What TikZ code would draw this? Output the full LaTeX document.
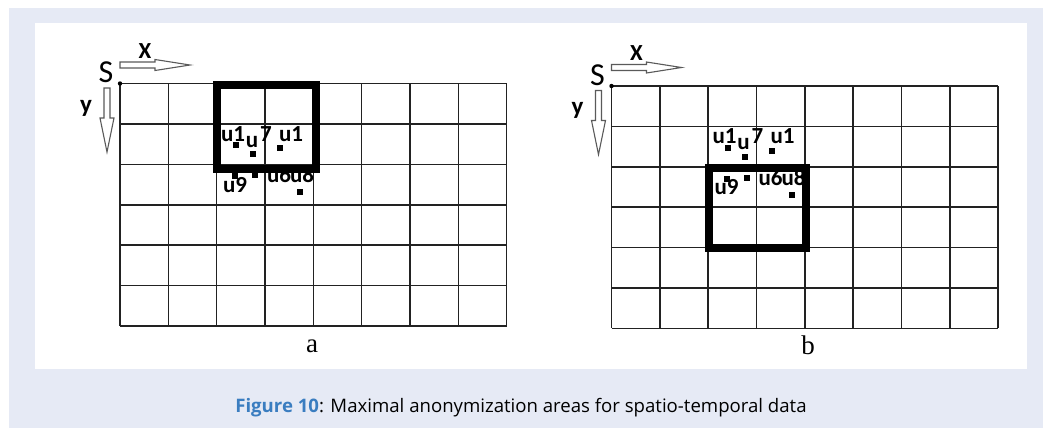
\documentclass[tikz,border=0pt]{standalone}
\usepackage{fontspec}
\setmainfont{Liberation Serif}
\newfontfamily\carl{Carlito}
\newfontfamily\capfont{Open Sans}
\definecolor{bgblue}{HTML}{E6EAF5}
\definecolor{capblue}{HTML}{3A7DC0}
\definecolor{gridgray}{HTML}{222222}
\definecolor{arrgray}{HTML}{5A5A5A}
\begin{document}
\begin{tikzpicture}[x=1pt,y=-1pt,
  gridline/.style={draw=gridgray, line width=1.6pt},
  hotbox/.style={draw=black, line width=8pt},
  hollowarrow/.style={draw=arrgray, line width=1.1pt, fill=white, line join=miter},
  lbl/.style={font=\carl\bfseries\fontsize{23}{23}\selectfont, inner sep=0pt, anchor=base},
  axislbl/.style={font=\carl\bfseries\fontsize{23}{23}\selectfont, inner sep=0pt, anchor=base},
  dotmark/.style={fill=black, minimum size=6pt, inner sep=0pt, draw=none, rectangle},
  sublbl/.style={font=\fontsize{27}{27}\selectfont, inner sep=0pt, anchor=base},
  captext/.style={font=\capfont\fontsize{18.6}{18.6}\selectfont, inner sep=0pt, anchor=base}]
\useasboundingbox (0,0) rectangle (1043,429);
\fill[bgblue] (9,8) rectangle (1043,428);
\fill[white] (35,23) rectangle (1027,369);

\foreach \p/\dx/\dy in {a/0/0, b/491.5/2.5}{
  \begin{scope}[shift={(\dx,\dy)}]
    % grid
    \foreach \i in {0,...,8}
      \draw[gridline] (120+\i*48.33,83.5) -- (120+\i*48.33,325.9);
    \foreach \j in {0,...,6}
      \draw[gridline] (120,83.5+\j*40.4) -- (506.6,83.5+\j*40.4);
    \fill[black] (120,83.5) circle (2.2pt);
    % labels
    \node[lbl] (l1\p) at (233,141) {u1};
    \node[lbl] (l2\p) at (252,147) {u};
    \node[lbl] (l3\p) at (266,141) {7};
    \node[lbl] (l4\p) at (291,141) {u1};
    \node[lbl] (l5\p) at (235,192) {u9};
    \node[lbl] (l6\p) at (279,182.5) {u6};
    \node[lbl] (l7\p) at (302,182.5) {u8};
    % points
    \node[dotmark] (p1\p) at (236,145) {};
    \node[dotmark] (p2\p) at (253,154) {};
    \node[dotmark] (p3\p) at (280,148) {};
    \node[dotmark] (p4\p) at (235,176) {};
    \node[dotmark] (p5\p) at (255,175) {};
    \node[dotmark] (p6\p) at (300,192) {};
    % axes
    \draw[hollowarrow] (120,62) -- (155,62) -- (155,59.5) -- (190,65) -- (155,70.5) -- (155,68) -- (120,68) -- cycle;
    \draw[hollowarrow] (104,88) -- (110,88) -- (110,118) -- (114,118) -- (107,152) -- (100,118) -- (104,118) -- cycle;
    \node[font=\carl\fontsize{32}{32}\selectfont, inner sep=0pt, anchor=base] (S\p) at (106,82.5) {S};
    \node[axislbl] (X\p) at (145,58) {X};
    \node[axislbl, font=\carl\bfseries\fontsize{25}{25}\selectfont] (Y\p) at (86,112) {y};
  \end{scope}
}
\draw[hotbox] (216.5,85) rectangle (315.5,168.5);
\draw[hotbox] (708.5,167.5) rectangle (806,248);
\node[sublbl] (suba) at (312,352) {a};
\node[sublbl] (subb) at (808,354) {b};
\node[captext] (cap) at (521,412) {\textcolor{capblue}{\textbf{Figure 10}}: Maximal anonymization areas for spatio-temporal data};
\end{tikzpicture}
\end{document}
